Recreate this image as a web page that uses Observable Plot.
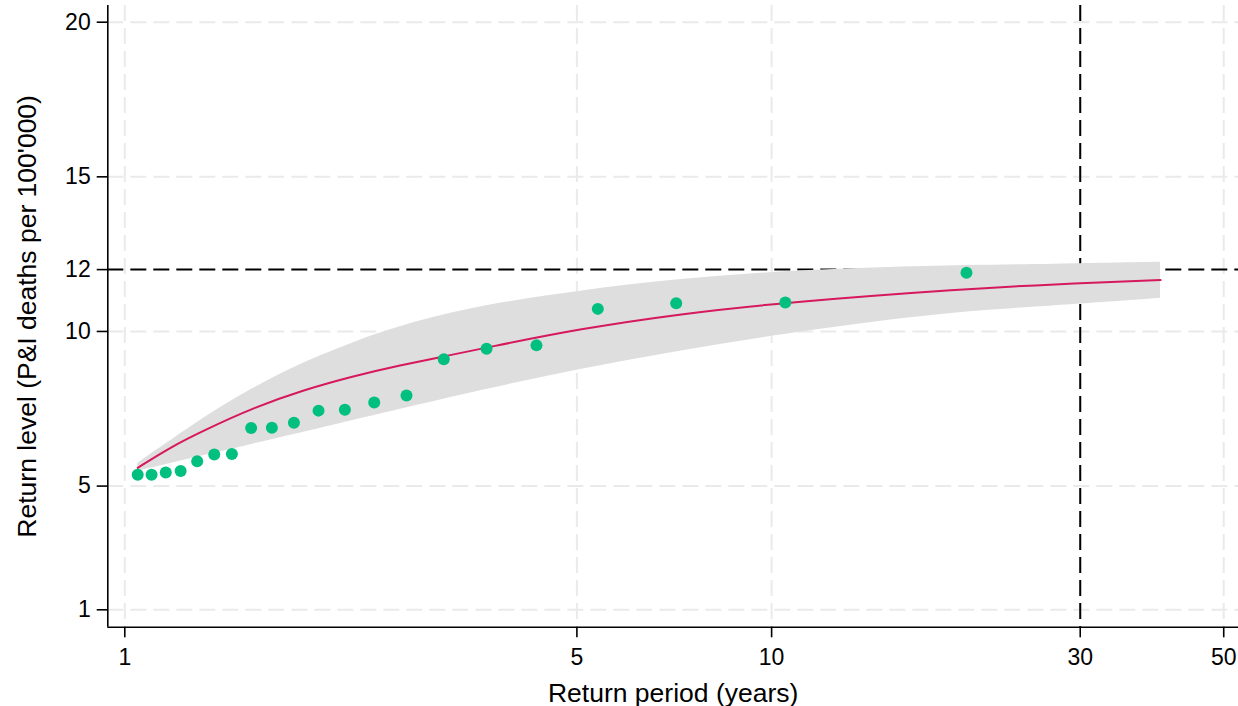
<!DOCTYPE html>
<html>
<head>
<meta charset="utf-8">
<script src="https://cdn.jsdelivr.net/npm/d3@7"></script>
<script src="https://cdn.jsdelivr.net/npm/@observablehq/plot@0.6"></script>
<style>
  html, body { margin: 0; padding: 0; background: #ffffff; }
  #chart { width: 1238px; height: 706px; }
</style>
</head>
<body>
<div id="chart"></div>
<script>
// Empirical return levels (return period in years, P&I deaths per 100'000)
const obsPeriod = [1.047, 1.100, 1.157, 1.220, 1.294, 1.375, 1.464, 1.568, 1.688, 1.826,
                   1.993, 2.189, 2.430, 2.726, 3.113, 3.625, 4.330, 5.386, 7.120, 10.50, 20.01];
const obsLevel  = [5.37, 5.37, 5.44, 5.49, 5.80, 6.02, 6.04, 6.88, 6.89, 7.05,
                   7.44, 7.47, 7.70, 7.93, 9.10, 9.44, 9.55, 10.73, 10.91, 10.94, 11.90];

// Fitted return-level curve
const fitPeriod = [1.047, 1.177, 1.325, 1.583, 1.891, 2.26, 2.669, 3.113, 3.625, 5.064,
                   7.232, 10.5, 20.06, 27.0, 39.93];
const fitLevel  = [5.59, 6.26, 6.80, 7.54, 8.11, 8.56, 8.91, 9.19, 9.48, 10.09,
                   10.57, 10.94, 11.38, 11.52, 11.66];

// Confidence band around the fitted curve
const bandPeriod = [1.047, 1.109, 1.249, 1.406, 1.583, 1.783, 2.007, 2.26, 2.669, 3.548,
                    5.064, 7.232, 10.5, 14.89, 20.06, 27.0, 39.93];
const bandUpper  = [5.73, 6.10, 6.85, 7.55, 8.18, 8.74, 9.22, 9.65, 10.19, 10.84,
                    11.32, 11.70, 11.95, 12.07, 12.14, 12.17, 12.24];
const bandLower  = [5.48, 5.60, 5.86, 6.11, 6.36, 6.62, 6.87, 7.13, 7.48, 8.09,
                    8.79, 9.38, 9.92, 10.35, 10.65, 10.82, 11.07];

// Axis ticks and reference lines
const xTicks = [1, 5, 10, 30, 50];
const yTicks = [1, 5, 10, 12, 15, 20];
const yGrid = [1, 5, 10, 15, 20];
const refPeriod = [30];
const refLevel = [12];
const xDomain = [0.9413, 52.7];
const yDomain = [0.437, 20.54];

const obs = obsPeriod.map((t, i) => ({t, v: obsLevel[i]}));
const fit = fitPeriod.map((t, i) => ({t, v: fitLevel[i]}));
const band = bandPeriod.map((t, i) => ({t, lo: bandLower[i], hi: bandUpper[i]}));

const dash = "16,7";
const font = "'Liberation Sans', Arial, Helvetica, sans-serif";

const chart = Plot.plot({
  width: 1238,
  height: 706,
  marginLeft: 107.3,
  marginRight: 0,
  marginTop: 5,
  marginBottom: 79.3,
  style: {fontFamily: font, color: "black", background: "white", overflow: "visible"},
  x: {type: "log", domain: xDomain, label: null},
  y: {domain: yDomain, label: null},
  marks: [
    Plot.gridX(xTicks, {stroke: "#EAEAEA", strokeOpacity: 1, strokeWidth: 2, strokeDasharray: dash}),
    Plot.gridY(yGrid, {stroke: "#EAEAEA", strokeOpacity: 1, strokeWidth: 2, strokeDasharray: dash}),
    Plot.ruleY(refLevel, {stroke: "black", strokeWidth: 2, strokeDasharray: dash}),
    Plot.ruleX(refPeriod, {stroke: "black", strokeWidth: 2, strokeDasharray: dash}),
    Plot.areaY(band, {x: "t", y1: "lo", y2: "hi", fill: "#DEDEDE", curve: "basis"}),
    Plot.line(fit, {x: "t", y: "v", stroke: "#D6185C", strokeWidth: 2, curve: "basis"}),
    Plot.dot(obs, {x: "t", y: "v", r: 6, fill: "#00BF7F", stroke: "none"}),
    Plot.ruleY([yDomain[0]], {stroke: "black", strokeWidth: 1.6}),
    Plot.ruleX([xDomain[0]], {stroke: "black", strokeWidth: 1.6}),
    Plot.axisX(xTicks, {tickSize: 10.6, tickPadding: 11, fontSize: 23, strokeWidth: 1.6,
                        tickFormat: d => String(d), label: null}),
    Plot.axisY(yTicks, {tickSize: 10.6, tickPadding: 6.5, fontSize: 23, strokeWidth: 1.6,
                        tickFormat: d => String(d), label: null}),
    Plot.text(["Return period (years)"], {frameAnchor: "bottom", dy: 66, fontSize: 26.5,
                                          lineAnchor: "middle", textAnchor: "middle", fill: "black"}),
    Plot.text(["Return level (P&I deaths per 100'000)"], {frameAnchor: "left", dx: -80.6,
                                          rotate: -90, fontSize: 26.5, lineAnchor: "middle",
                                          textAnchor: "middle", fill: "black"})
  ]
});

document.getElementById("chart").appendChild(chart);
</script>
</body>
</html>
